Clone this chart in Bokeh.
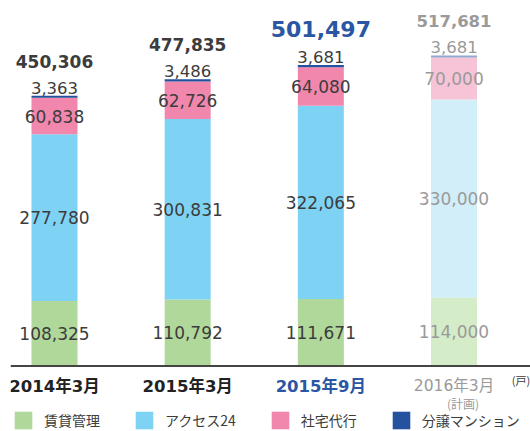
from bokeh.plotting import figure
from bokeh.models import ColumnDataSource, Span, Legend, LegendItem, Range1d
from bokeh.core.properties import value
from bokeh.embed import file_html
from bokeh.resources import INLINE
import numpy as np

# ---- data ----
categories = ["2014年3月", "2015年3月", "2015年9月", "2016年3月"]
series_names = ["賃貸管理", "アクセス24", "社宅代行", "分譲マンション"]
rental = [108325, 110792, 111671, 114000]
access24 = [277780, 300831, 322065, 330000]
company_housing = [60838, 62726, 64080, 70000]
condo = [3363, 3486, 3681, 3681]
totals = [450306, 477835, 501497, 517681]
unit_label = "(戸)"
plan_note = "(計画)"

# ---- styles ----
full_colors = ["#b0d89a", "#7ed3f5", "#f287ae", "#25529e"]
faded_colors = ["#d5ecc8", "#d2eef9", "#f7c3d6", "#91a8d0"]
DARK = "#3c3c3c"
BLUE = "#2a56a3"
GRAY = "#9a9a9a"
NUM_FONT = "DejaVu Sans"
JP_FONT = "DejaVu Sans, Noto Sans CJK JP"

planned = [False, False, False, True]
series = [rental, access24, company_housing, condo]

x = list(range(len(categories)))
data = dict(x=x)
bottom = np.zeros(len(categories))
for i, vals in enumerate(series):
    v = np.array(vals, dtype=float)
    data[f"b{i}"] = bottom.copy()
    data[f"t{i}"] = bottom + v
    data[f"m{i}"] = bottom + v / 2
    data[f"lab{i}"] = [f"{int(a):,}" for a in vals]
    data[f"c{i}"] = [faded_colors[i] if pl else full_colors[i] for pl in planned]
    bottom = bottom + v
data["total"] = totals
data["total_lab"] = [f"{t:,}" for t in totals]
data["txt_col"] = [GRAY if pl else DARK for pl in planned]
data["tot_col"] = [GRAY if pl else (BLUE if i == 2 else DARK) for i, pl in enumerate(planned)]
data["tot_size"] = ["16.5px" if pl else ("22px" if i == 2 else "17px") for i, pl in enumerate(planned)]
data["cat"] = categories
data["cat_col"] = [GRAY if pl else (BLUE if i == 2 else "#222222") for i, pl in enumerate(planned)]
data["cat_style"] = ["normal" if pl else "bold" for pl in planned]
data["cat_size"] = ["15.5px" if pl else "16.5px" for pl in planned]
src = ColumnDataSource(data)

# ---- figure ----
W, H = 530, 431
LEFT = 10
px_per_x = 133.17
x0 = -(54 - LEFT) / px_per_x
k = 0.0006  # px per unit
y0 = -65.5 / k
p = figure(width=W, height=H, output_backend="svg", toolbar_location=None,
           x_axis_type=None, y_axis_type=None, min_border=0, min_border_left=LEFT,
           x_range=Range1d(x0, x0 + (W - LEFT) / px_per_x), y_range=Range1d(y0, y0 + H / k))
p.outline_line_color = None
p.grid.visible = False
p.background_fill_color = "white"
p.border_fill_color = "white"

renderers = []
for i in range(4):
    r = p.vbar(x="x", bottom=f"b{i}", top=f"t{i}", width=46 / px_per_x,
               fill_color=f"c{i}", line_color=None, source=src)
    renderers.append(r)

p.add_layout(Span(location=0, dimension="width", line_color="#444444", line_width=2))

# segment labels (first three series centered)
for i in range(3):
    p.text(x="x", y=f"m{i}", text=f"lab{i}", source=src, text_align="center",
           text_baseline="middle", text_color="txt_col", text_font=value(NUM_FONT),
           text_font_size="17px")
# condo labels just above the bar
p.text(x="x", y="t3", text="lab3", source=src, text_align="center",
       text_baseline="bottom", y_offset=-2, text_color="txt_col",
       text_font=value(NUM_FONT), text_font_size="16.5px")
# totals
p.text(x="x", y="total", text="total_lab", source=src, text_align="center",
       text_baseline="bottom", y_offset=-28, text_color="tot_col",
       text_font=value(NUM_FONT), text_font_size="tot_size", text_font_style="bold")
# category labels
p.text(x="x", y=0, text="cat", source=src, text_align="center", text_baseline="middle",
       y_offset=20, text_color="cat_col", text_font=value(JP_FONT),
       text_font_size="cat_size", text_font_style="cat_style")
plan_idx = planned.index(True)
p.text(x=[plan_idx], y=[0], text=[plan_note], text_align="center", text_baseline="middle",
       x_offset=9, y_offset=37, text_color=GRAY, text_font=value("Noto Sans CJK JP"),
       text_font_size="12px")
p.text(x=[len(categories) - 1], y=[0], text=[unit_label], text_align="center",
       text_baseline="middle", x_offset=67, y_offset=14, text_color=DARK,
       text_font=value("Noto Sans CJK JP"), text_font_size="11px")

legend = Legend(items=[LegendItem(label=series_names[i], renderers=[renderers[i]], index=0)
                       for i in range(4)],
                location=(2, 0), orientation="horizontal")
legend.padding = 0
legend.margin = 0
legend.spacing = 33
legend.glyph_width = 22
legend.glyph_height = 22
legend.label_height = 22
legend.label_standoff = 10
legend.label_text_font = "Noto Sans CJK JP"
legend.label_text_font_size = "14px"
legend.label_text_color = DARK
legend.label_text_baseline = "middle"
legend.border_line_color = None
legend.background_fill_alpha = 0
p.add_layout(legend)

open("out.html", "w").write(file_html(p, INLINE))
